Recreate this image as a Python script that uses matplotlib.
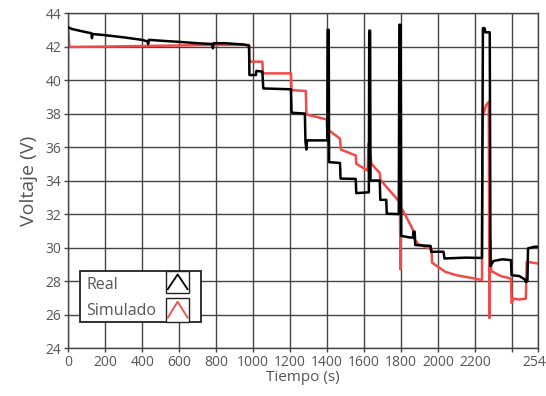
import matplotlib
matplotlib.use("Agg")
import matplotlib.pyplot as plt
from matplotlib.patches import Rectangle
from matplotlib.lines import Line2D

plt.rcParams['font.family'] = ['Open Sans', 'DejaVu Sans']

# Measured battery voltage (Real)
t_real = [0, 20, 60, 100, 125, 128, 132, 200, 300, 400, 430, 432, 436, 500, 600, 700,
          780, 782, 786, 850, 950, 978, 980, 1015, 1018, 1050, 1055, 1205, 1208, 1280,
          1283, 1288, 1292, 1401, 1403, 1409, 1411, 1470, 1473, 1555, 1558, 1626, 1628,
          1633, 1635, 1685, 1688, 1720, 1723, 1788, 1791, 1798, 1801, 1850, 1865, 1867,
          1874, 1877, 1960, 1963, 2030, 2035, 2150, 2238, 2243, 2252, 2256, 2280, 2284,
          2300, 2350, 2395, 2398, 2440, 2470, 2475, 2484, 2487, 2520, 2540]
v_real = [43.15, 43.05, 42.95, 42.85, 42.8, 42.5, 42.75, 42.68, 42.55, 42.4, 42.3, 42.15,
          42.4, 42.35, 42.28, 42.2, 42.15, 41.9, 42.2, 42.2, 42.12, 42.05, 40.3, 40.3,
          40.55, 40.5, 39.5, 39.45, 38.05, 38.0, 36.35, 35.85, 36.4, 36.4, 43.0, 43.0,
          35.1, 35.05, 34.12, 34.1, 33.25, 33.3, 42.95, 42.95, 34.0, 34.0, 32.85, 32.85,
          32.02, 32.0, 43.3, 43.3, 30.7, 30.6, 30.6, 30.95, 30.95, 30.15, 30.1, 29.75,
          29.75, 29.35, 29.4, 29.38, 43.1, 43.1, 42.85, 42.85, 28.9, 29.2, 29.3, 29.25,
          28.35, 28.3, 28.1, 27.95, 28.0, 29.95, 30.05, 30.05]

# Model output (Simulado)
t_sim = [0, 5, 10, 200, 500, 800, 978, 980, 1050, 1053, 1205, 1208, 1285, 1288, 1398,
         1401, 1404, 1470, 1475, 1555, 1558, 1620, 1624, 1628, 1640, 1685, 1688, 1790,
         1794, 1797, 1800, 1830, 1867, 1872, 1894, 1965, 1968, 2040, 2100, 2200, 2238,
         2240, 2243, 2260, 2275, 2278, 2282, 2288, 2340, 2395, 2398, 2410, 2440, 2475,
         2480, 2540]
v_sim = [43.05, 42.1, 41.98, 42.0, 42.05, 42.1, 42.1, 41.1, 41.1, 40.4, 40.4, 39.4, 39.35,
         37.95, 37.65, 36.95, 37.05, 36.5, 35.85, 35.5, 35.0, 34.6, 36.2, 36.1, 35.0,
         34.45, 34.05, 32.75, 32.7, 28.7, 32.4, 31.8, 31.0, 30.5, 30.2, 29.9, 29.1, 28.55,
         28.35, 28.15, 28.05, 36.0, 37.9, 38.5, 38.7, 25.8, 30.5, 28.6, 28.3, 28.15, 26.7,
         26.95, 26.9, 26.95, 29.15, 29.05]

x_ticks = [0, 200, 400, 600, 800, 1000, 1200, 1400, 1600, 1800, 2000, 2200, 2400, 2540]
x_labels = ['0', '200', '400', '600', '800', '1000', '1200', '1400', '1600', '1800',
            '2000', '2200', '', '2540']
y_ticks = [24, 26, 28, 30, 32, 34, 36, 38, 40, 42, 44]

RED = '#f04a4a'
GRID = '#444444'
TXT = '#555555'

fig = plt.figure(figsize=(5.46, 3.96), dpi=100)
ax = fig.add_axes([0.125, 0.121, 0.86, 0.846])

ax.plot(t_real, v_real, color='black', lw=1.8, zorder=3)
ax.plot(t_sim, v_sim, color=RED, lw=1.8, zorder=2)

ax.set_xlim(0, 2540)
ax.set_ylim(24, 44)
ax.set_xticks(x_ticks)
ax.set_xticklabels(x_labels)
ax.set_yticks(y_ticks)
ax.grid(True, color=GRID, lw=1.0)
for s in ax.spines.values():
    s.set_color(GRID)
    s.set_linewidth(1.0)
ax.tick_params(axis='both', colors=GRID, labelcolor=TXT, labelsize=10, length=3,
               width=1.0, pad=2)

ax.set_xlabel('Tiempo (s)', fontsize=11, color=TXT, labelpad=0)
ax.set_ylabel('Voltaje (V)', fontsize=14, color=TXT, labelpad=5)

# Legend panel with chevron swatches
box = Rectangle((0.0256, 0.0785), 0.2564, 0.1514, transform=ax.transAxes,
                facecolor='white', edgecolor='#222222', lw=1.3, zorder=5)
ax.add_patch(box)
ax.text(0.039, 0.188, 'Real', transform=ax.transAxes, fontsize=11.5, color=TXT,
        va='center', ha='left', zorder=6)
ax.text(0.039, 0.111, 'Simulado', transform=ax.transAxes, fontsize=11.5, color=TXT,
        va='center', ha='left', zorder=6)
for (yb, yt, col) in [(0.164, 0.2299, 'black'), (0.0785, 0.149, RED)]:
    sw = Rectangle((0.208, yb), 0.050, yt - yb, transform=ax.transAxes,
                   facecolor='white', edgecolor='#222222', lw=1.0, zorder=6)
    ax.add_patch(sw)
    h = yt - yb
    ax.add_line(Line2D([0.212, 0.233, 0.254], [yb + 0.18 * h, yt - 0.15 * h, yb + 0.18 * h],
                       transform=ax.transAxes, color=col, lw=1.3, zorder=7))

fig.savefig('out.png', dpi=100)
